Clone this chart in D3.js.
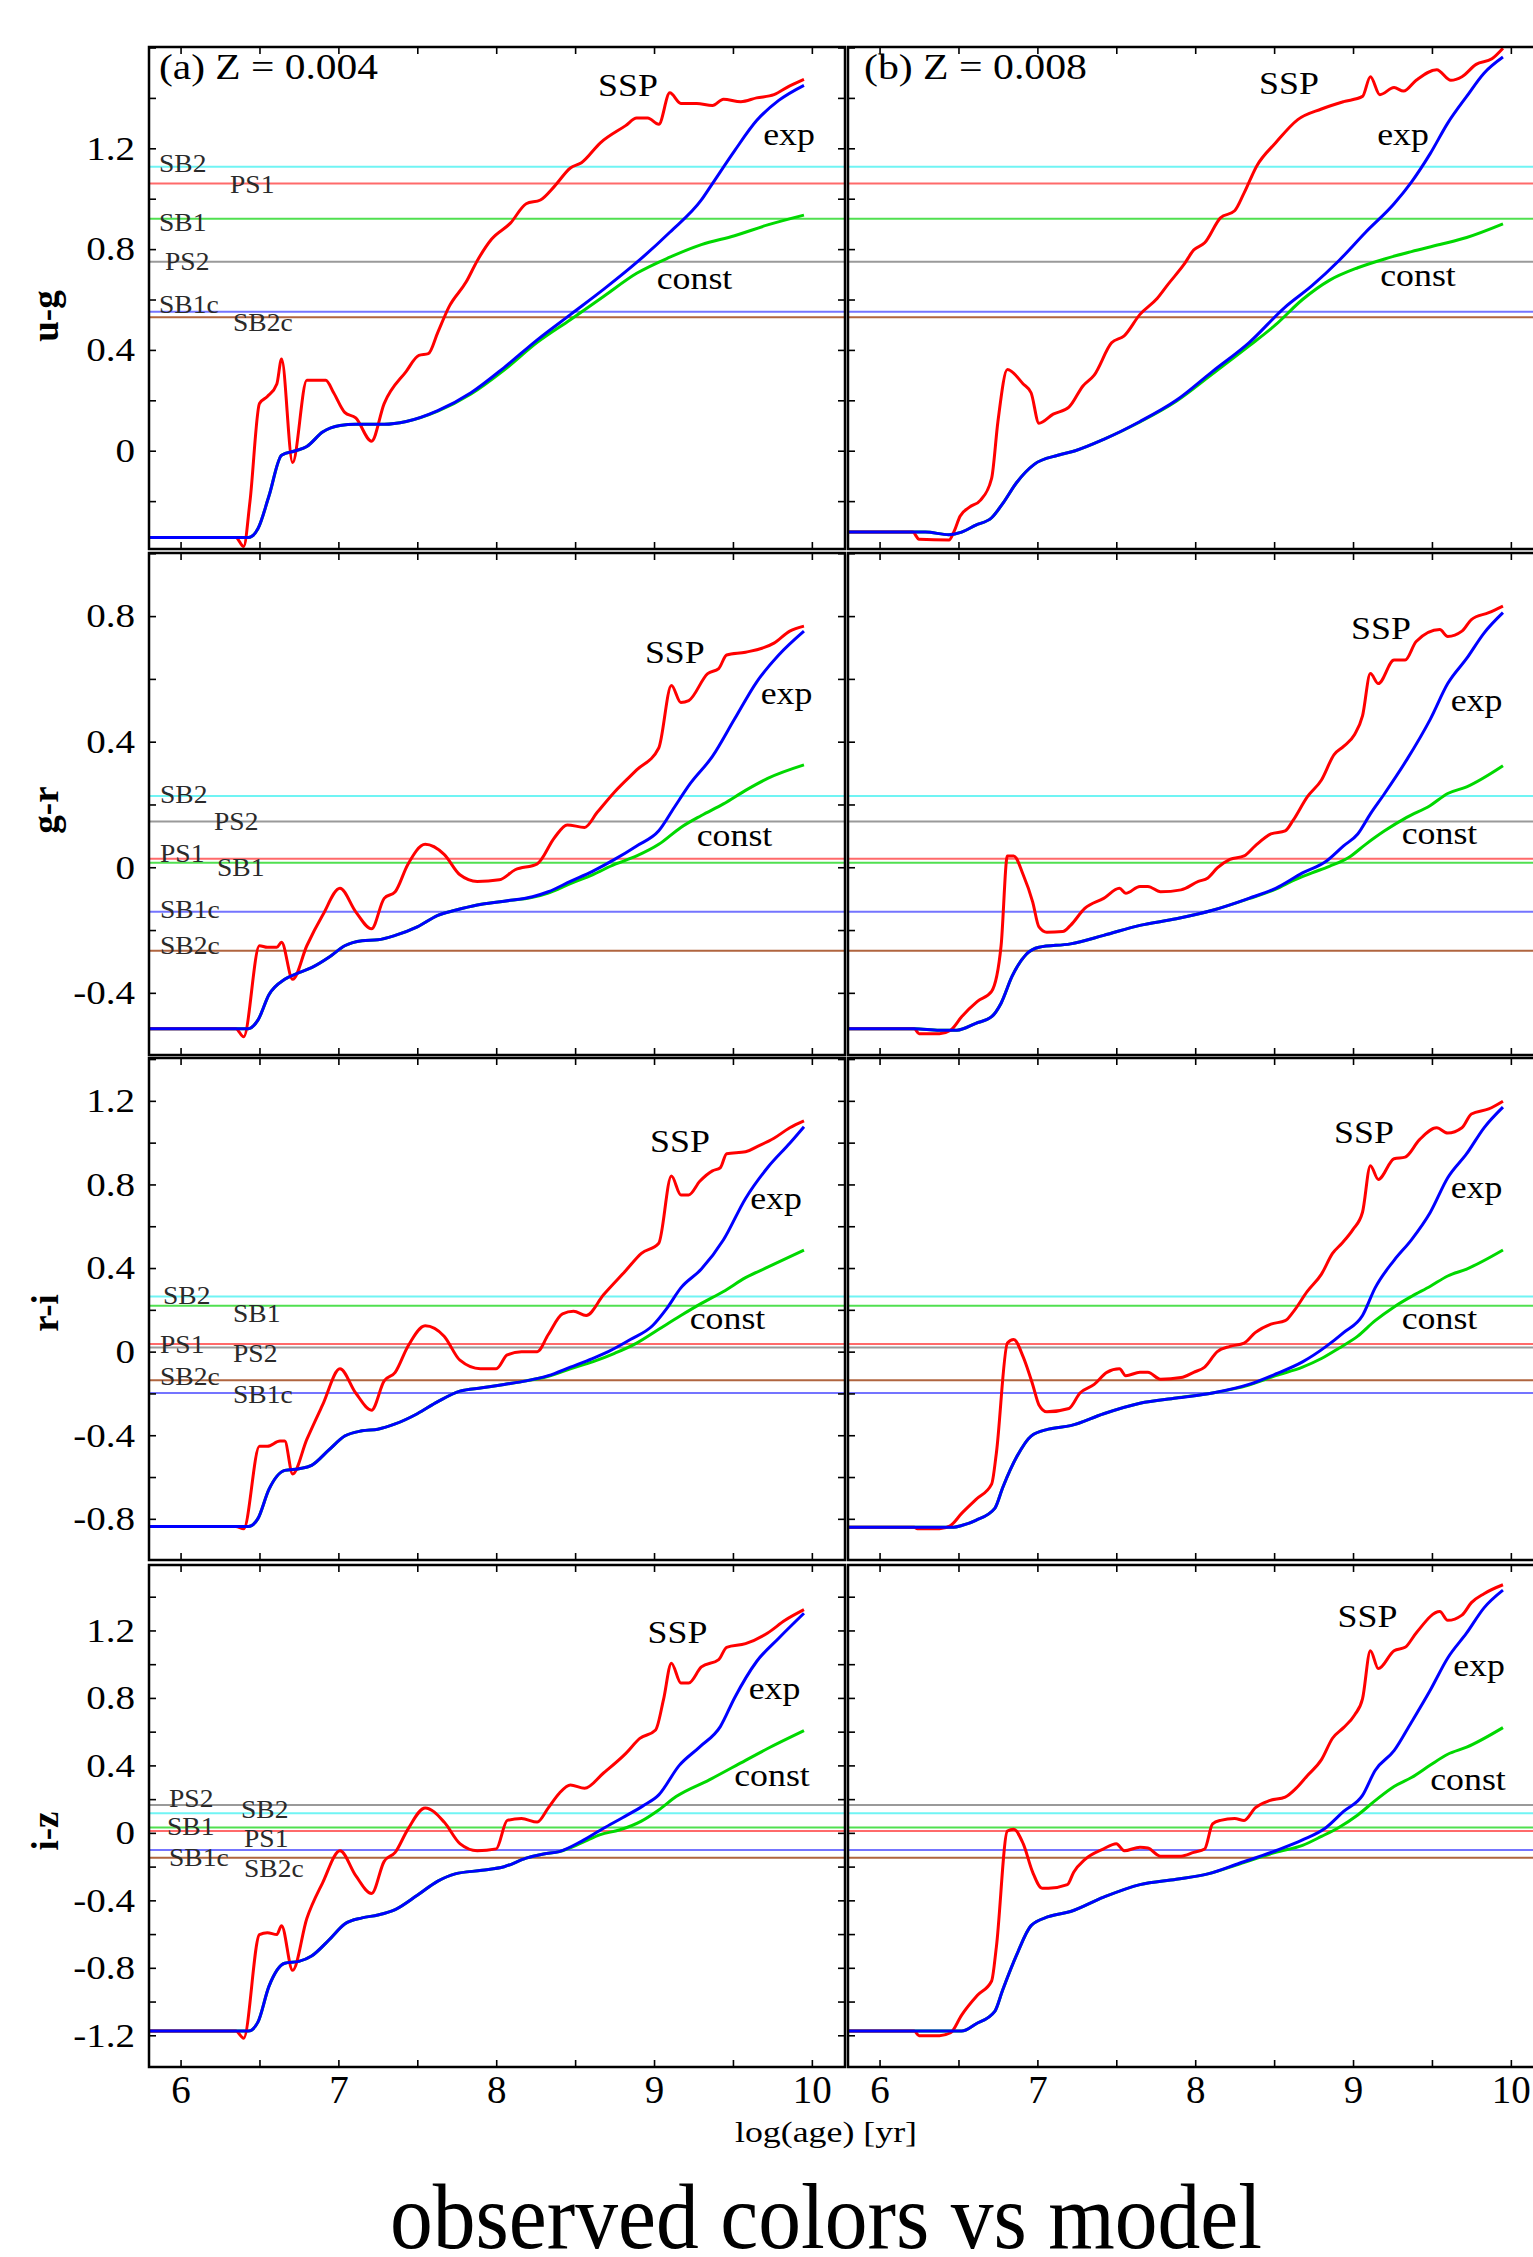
<!DOCTYPE html>
<html lang="en">
<head>
<meta charset="UTF-8">
<title>observed colors vs model</title>
<script src="https://d3js.org/d3.v7.min.js"></script>
<style>
  body { margin: 0; background: #fff; }
  svg { display: block; font-family: "Liberation Serif", "Times New Roman", serif; }
  svg text { font-family: "Liberation Serif", "Times New Roman", serif; }
</style>
</head>
<body>
<svg id="chart" width="1533" height="2257"></svg>
<script>
// each series: [log(age), colour] pairs
// u-g, Z = 0.004
const ugSsp004 = [[5.8,-0.344],[6.35,-0.344],[6.40,-0.38],[6.44,-0.2],[6.50,0.187],[6.55,0.215],[6.61,0.265],[6.64,0.364],[6.71,-0.047],[6.80,0.28],[6.92,0.28],[6.97,0.23],[7.04,0.152],[7.11,0.13],[7.21,0.038],[7.29,0.187],[7.43,0.315],[7.51,0.378],[7.57,0.385],[7.63,0.47],[7.70,0.57],[7.81,0.67],[7.88,0.754],[7.97,0.839],[8.09,0.903],[8.19,0.98],[8.28,0.995],[8.37,1.05],[8.47,1.122],[8.54,1.143],[8.66,1.222],[8.82,1.29],[8.89,1.32],[8.96,1.32],[9.03,1.295],[9.10,1.42],[9.17,1.378],[9.27,1.378],[9.37,1.37],[9.44,1.395],[9.55,1.385],[9.65,1.40],[9.76,1.413],[9.86,1.448],[9.95,1.474]];
const ugExp004 = [[5.8,-0.344],[6.43,-0.344],[6.49,-0.31],[6.56,-0.18],[6.64,-0.018],[6.73,0],[6.80,0.017],[6.90,0.074],[7.01,0.10],[7.11,0.105],[7.29,0.105],[7.43,0.116],[7.63,0.159],[7.84,0.23],[8.05,0.33],[8.26,0.44],[8.47,0.54],[8.68,0.64],[8.89,0.747],[9.10,0.867],[9.30,0.995],[9.37,1.06],[9.51,1.19],[9.65,1.31],[9.79,1.39],[9.95,1.45]];
const ugConst004 = [[5.8,-0.344],[6.43,-0.344],[6.49,-0.31],[6.56,-0.18],[6.64,-0.018],[6.73,0],[6.80,0.017],[6.90,0.074],[7.01,0.10],[7.11,0.105],[7.29,0.105],[7.43,0.116],[7.63,0.157],[7.84,0.225],[8.05,0.32],[8.26,0.43],[8.47,0.52],[8.68,0.612],[8.89,0.704],[9.10,0.768],[9.30,0.818],[9.51,0.853],[9.72,0.896],[9.95,0.935]];
// u-g, Z = 0.008
const ugSsp008 = [[5.8,-0.323],[6.21,-0.323],[6.25,-0.351],[6.44,-0.354],[6.47,-0.323],[6.51,-0.26],[6.57,-0.224],[6.64,-0.196],[6.71,-0.11],[6.75,0.116],[6.81,0.322],[6.91,0.265],[6.96,0.23],[7.01,0.109],[7.10,0.145],[7.20,0.173],[7.29,0.258],[7.36,0.30],[7.47,0.428],[7.55,0.456],[7.65,0.541],[7.76,0.605],[7.83,0.662],[7.93,0.74],[7.99,0.796],[8.06,0.825],[8.16,0.924],[8.25,0.952],[8.31,1.023],[8.39,1.13],[8.51,1.222],[8.65,1.314],[8.80,1.356],[8.94,1.385],[9.06,1.406],[9.11,1.484],[9.17,1.413],[9.26,1.441],[9.32,1.427],[9.40,1.47],[9.53,1.512],[9.62,1.47],[9.69,1.484],[9.78,1.533],[9.88,1.555],[9.95,1.597]];
const ugExp008 = [[5.8,-0.323],[6.29,-0.323],[6.44,-0.333],[6.52,-0.323],[6.61,-0.295],[6.71,-0.266],[6.78,-0.21],[6.87,-0.125],[6.98,-0.054],[7.13,-0.018],[7.24,0],[7.42,0.045],[7.65,0.116],[7.88,0.20],[8.11,0.315],[8.34,0.428],[8.57,0.57],[8.74,0.655],[8.91,0.754],[9.08,0.867],[9.26,0.98],[9.37,1.066],[9.49,1.18],[9.60,1.30],[9.72,1.406],[9.83,1.498],[9.95,1.562]];
const ugConst008 = [[5.8,-0.323],[6.29,-0.323],[6.44,-0.333],[6.52,-0.323],[6.61,-0.295],[6.71,-0.266],[6.78,-0.21],[6.87,-0.125],[6.98,-0.054],[7.13,-0.018],[7.24,0],[7.42,0.045],[7.65,0.114],[7.88,0.196],[8.11,0.305],[8.34,0.415],[8.51,0.50],[8.68,0.60],[8.85,0.676],[9.03,0.726],[9.20,0.761],[9.37,0.79],[9.55,0.818],[9.72,0.846],[9.95,0.90]];

// g-r
const grSsp004 = [[5.8,-0.514],[6.35,-0.514],[6.40,-0.54],[6.50,-0.25],[6.55,-0.255],[6.61,-0.255],[6.64,-0.239],[6.71,-0.357],[6.80,-0.25],[6.90,-0.153],[7.01,-0.067],[7.11,-0.142],[7.21,-0.196],[7.29,-0.099],[7.36,-0.078],[7.44,0.009],[7.55,0.073],[7.67,0.041],[7.77,-0.024],[7.88,-0.045],[8.02,-0.04],[8.12,-0.008],[8.26,0.011],[8.37,0.095],[8.45,0.135],[8.56,0.127],[8.64,0.175],[8.75,0.24],[8.89,0.31],[9.03,0.38],[9.11,0.579],[9.17,0.525],[9.22,0.531],[9.34,0.617],[9.41,0.633],[9.46,0.676],[9.58,0.685],[9.76,0.714],[9.86,0.752],[9.95,0.768]];
const grExp004 = [[5.8,-0.514],[6.43,-0.514],[6.49,-0.487],[6.56,-0.406],[6.66,-0.357],[6.75,-0.336],[6.83,-0.32],[6.94,-0.287],[7.04,-0.25],[7.15,-0.234],[7.25,-0.231],[7.36,-0.217],[7.50,-0.19],[7.63,-0.153],[7.74,-0.137],[7.88,-0.12],[8.05,-0.108],[8.23,-0.094],[8.33,-0.078],[8.47,-0.045],[8.61,-0.013],[8.75,0.025],[8.89,0.068],[9.03,0.116],[9.13,0.192],[9.23,0.267],[9.37,0.353],[9.51,0.472],[9.65,0.59],[9.79,0.676],[9.95,0.752]];
const grConst004 = [[5.8,-0.514],[6.43,-0.514],[6.49,-0.487],[6.56,-0.406],[6.66,-0.357],[6.75,-0.336],[6.83,-0.32],[6.94,-0.287],[7.04,-0.25],[7.15,-0.234],[7.25,-0.231],[7.36,-0.217],[7.50,-0.19],[7.63,-0.153],[7.74,-0.137],[7.88,-0.12],[8.05,-0.108],[8.23,-0.096],[8.33,-0.082],[8.47,-0.052],[8.61,-0.024],[8.75,0.009],[8.89,0.036],[9.03,0.073],[9.17,0.127],[9.30,0.165],[9.44,0.202],[9.58,0.245],[9.72,0.283],[9.95,0.326]];
const grSsp008 = [[5.8,-0.514],[6.22,-0.514],[6.25,-0.53],[6.38,-0.53],[6.45,-0.519],[6.52,-0.476],[6.62,-0.427],[6.71,-0.395],[6.77,-0.25],[6.81,0.036],[6.85,0.036],[6.91,-0.024],[6.97,-0.11],[7.01,-0.19],[7.06,-0.207],[7.16,-0.205],[7.21,-0.185],[7.30,-0.131],[7.42,-0.099],[7.52,-0.067],[7.56,-0.083],[7.65,-0.061],[7.70,-0.061],[7.78,-0.078],[7.91,-0.072],[8.02,-0.045],[8.08,-0.034],[8.14,-0.002],[8.22,0.025],[8.31,0.036],[8.38,0.068],[8.48,0.106],[8.57,0.116],[8.62,0.149],[8.71,0.224],[8.80,0.278],[8.88,0.359],[8.94,0.385],[9.01,0.423],[9.06,0.482],[9.11,0.617],[9.16,0.585],[9.26,0.66],[9.33,0.66],[9.40,0.719],[9.55,0.757],[9.60,0.735],[9.69,0.752],[9.75,0.789],[9.86,0.811],[9.95,0.832]];
const grExp008 = [[5.8,-0.514],[6.22,-0.514],[6.38,-0.519],[6.49,-0.519],[6.61,-0.497],[6.71,-0.476],[6.77,-0.433],[6.84,-0.347],[6.93,-0.277],[7.01,-0.255],[7.21,-0.244],[7.42,-0.217],[7.65,-0.185],[7.88,-0.164],[8.11,-0.137],[8.34,-0.099],[8.51,-0.067],[8.68,-0.018],[8.83,0.019],[8.94,0.068],[9.03,0.106],[9.11,0.17],[9.20,0.235],[9.34,0.342],[9.49,0.472],[9.60,0.585],[9.72,0.665],[9.83,0.746],[9.95,0.811]];
const grConst008 = [[5.8,-0.514],[6.22,-0.514],[6.38,-0.519],[6.49,-0.519],[6.61,-0.497],[6.71,-0.476],[6.77,-0.433],[6.84,-0.347],[6.93,-0.277],[7.01,-0.255],[7.21,-0.244],[7.42,-0.217],[7.65,-0.185],[7.88,-0.164],[8.11,-0.137],[8.34,-0.1],[8.51,-0.07],[8.63,-0.04],[8.74,-0.018],[8.85,0.003],[8.97,0.03],[9.08,0.073],[9.20,0.116],[9.34,0.159],[9.49,0.197],[9.60,0.235],[9.72,0.256],[9.95,0.323]];

// r-i
const riSsp004 = [[5.8,-0.837],[6.35,-0.837],[6.40,-0.848],[6.50,-0.453],[6.55,-0.453],[6.63,-0.428],[6.66,-0.428],[6.71,-0.585],[6.80,-0.42],[6.90,-0.255],[7.01,-0.082],[7.11,-0.198],[7.21,-0.28],[7.29,-0.14],[7.36,-0.099],[7.44,0.025],[7.55,0.124],[7.67,0.074],[7.77,-0.041],[7.90,-0.082],[8.00,-0.082],[8.07,-0.016],[8.16,0],[8.26,0],[8.33,0.082],[8.42,0.181],[8.49,0.193],[8.57,0.173],[8.68,0.272],[8.82,0.387],[8.92,0.47],[9.03,0.519],[9.11,0.84],[9.17,0.75],[9.22,0.75],[9.29,0.815],[9.37,0.865],[9.42,0.88],[9.46,0.947],[9.58,0.956],[9.65,0.98],[9.76,1.021],[9.86,1.071],[9.95,1.104]];
const riExp004 = [[5.8,-0.837],[6.43,-0.837],[6.49,-0.799],[6.56,-0.659],[6.66,-0.568],[6.75,-0.56],[6.83,-0.544],[6.94,-0.47],[7.04,-0.404],[7.15,-0.379],[7.25,-0.371],[7.36,-0.346],[7.50,-0.297],[7.63,-0.239],[7.77,-0.189],[7.91,-0.173],[8.05,-0.157],[8.19,-0.14],[8.33,-0.115],[8.47,-0.074],[8.61,-0.033],[8.71,0],[8.85,0.058],[8.99,0.124],[9.08,0.206],[9.17,0.305],[9.30,0.395],[9.44,0.535],[9.58,0.733],[9.72,0.881],[9.86,0.997],[9.95,1.076]];
const riConst004 = [[5.8,-0.837],[6.43,-0.837],[6.49,-0.799],[6.56,-0.659],[6.66,-0.568],[6.75,-0.56],[6.83,-0.544],[6.94,-0.47],[7.04,-0.404],[7.15,-0.379],[7.25,-0.371],[7.36,-0.346],[7.50,-0.297],[7.63,-0.239],[7.77,-0.189],[7.91,-0.173],[8.05,-0.157],[8.19,-0.14],[8.33,-0.118],[8.47,-0.082],[8.61,-0.049],[8.75,-0.008],[8.89,0.041],[9.03,0.107],[9.17,0.173],[9.30,0.231],[9.44,0.288],[9.58,0.354],[9.72,0.404],[9.95,0.486]];
const riSsp008 = [[5.8,-0.84],[6.22,-0.84],[6.24,-0.848],[6.38,-0.848],[6.45,-0.832],[6.52,-0.774],[6.61,-0.708],[6.71,-0.634],[6.74,-0.486],[6.81,0.041],[6.85,0.058],[6.91,-0.025],[6.97,-0.157],[7.01,-0.255],[7.06,-0.288],[7.20,-0.272],[7.27,-0.198],[7.36,-0.157],[7.44,-0.099],[7.52,-0.082],[7.56,-0.115],[7.65,-0.099],[7.70,-0.099],[7.78,-0.132],[7.91,-0.124],[7.99,-0.099],[8.06,-0.074],[8.14,0],[8.22,0.025],[8.31,0.041],[8.38,0.091],[8.48,0.132],[8.57,0.148],[8.62,0.189],[8.71,0.288],[8.80,0.371],[8.87,0.47],[8.93,0.519],[9.00,0.585],[9.06,0.667],[9.11,0.89],[9.16,0.824],[9.26,0.923],[9.33,0.931],[9.42,1.013],[9.53,1.071],[9.60,1.046],[9.69,1.071],[9.75,1.137],[9.86,1.161],[9.95,1.198]];
const riExp008 = [[5.8,-0.84],[6.47,-0.84],[6.52,-0.832],[6.61,-0.807],[6.73,-0.75],[6.78,-0.651],[6.87,-0.502],[6.96,-0.404],[7.07,-0.371],[7.21,-0.354],[7.42,-0.297],[7.65,-0.247],[7.88,-0.222],[8.11,-0.198],[8.34,-0.157],[8.51,-0.107],[8.68,-0.049],[8.83,0.025],[8.94,0.091],[9.06,0.173],[9.14,0.305],[9.26,0.437],[9.37,0.535],[9.49,0.667],[9.60,0.832],[9.72,0.947],[9.83,1.071],[9.95,1.17]];
const riConst008 = [[5.8,-0.84],[6.47,-0.84],[6.52,-0.832],[6.61,-0.807],[6.73,-0.75],[6.78,-0.651],[6.87,-0.502],[6.96,-0.404],[7.07,-0.371],[7.21,-0.354],[7.42,-0.297],[7.65,-0.247],[7.88,-0.222],[8.11,-0.198],[8.34,-0.16],[8.51,-0.115],[8.68,-0.074],[8.80,-0.033],[8.91,0.016],[9.03,0.074],[9.14,0.148],[9.26,0.214],[9.37,0.264],[9.49,0.313],[9.60,0.362],[9.72,0.395],[9.95,0.486]];

// i-z
const izSsp004 = [[5.8,-1.175],[6.35,-1.175],[6.40,-1.217],[6.50,-0.603],[6.55,-0.592],[6.61,-0.603],[6.64,-0.55],[6.71,-0.815],[6.80,-0.508],[6.90,-0.296],[7.01,-0.106],[7.11,-0.254],[7.21,-0.36],[7.29,-0.169],[7.36,-0.116],[7.44,0.021],[7.55,0.148],[7.67,0.064],[7.77,-0.064],[7.88,-0.106],[8.00,-0.095],[8.07,0.074],[8.16,0.085],[8.26,0.064],[8.33,0.148],[8.40,0.235],[8.47,0.284],[8.56,0.264],[8.68,0.355],[8.82,0.47],[8.91,0.56],[9.01,0.61],[9.06,0.79],[9.11,1.006],[9.17,0.889],[9.22,0.889],[9.30,0.984],[9.41,1.027],[9.46,1.10],[9.58,1.122],[9.72,1.185],[9.83,1.26],[9.95,1.323]];
const izExp004 = [[5.8,-1.175],[6.43,-1.175],[6.49,-1.122],[6.56,-0.91],[6.66,-0.773],[6.75,-0.762],[6.83,-0.73],[6.94,-0.635],[7.04,-0.54],[7.15,-0.504],[7.25,-0.487],[7.36,-0.455],[7.50,-0.37],[7.63,-0.286],[7.74,-0.243],[7.91,-0.222],[8.05,-0.201],[8.19,-0.15],[8.30,-0.125],[8.40,-0.111],[8.54,-0.05],[8.68,0.027],[8.80,0.09],[8.93,0.16],[9.03,0.225],[9.16,0.40],[9.29,0.51],[9.42,0.63],[9.51,0.80],[9.65,1.016],[9.79,1.154],[9.95,1.302]];
const izConst004 = [[5.8,-1.175],[6.43,-1.175],[6.49,-1.122],[6.56,-0.91],[6.66,-0.773],[6.75,-0.762],[6.83,-0.73],[6.94,-0.635],[7.04,-0.54],[7.15,-0.504],[7.25,-0.487],[7.36,-0.455],[7.50,-0.37],[7.63,-0.286],[7.74,-0.243],[7.91,-0.222],[8.05,-0.201],[8.19,-0.15],[8.30,-0.125],[8.40,-0.111],[8.54,-0.06],[8.66,-0.01],[8.78,0.017],[8.92,0.07],[9.03,0.136],[9.14,0.215],[9.35,0.314],[9.58,0.43],[9.72,0.50],[9.95,0.606]];
const izSsp008 = [[5.8,-1.175],[6.22,-1.175],[6.25,-1.202],[6.38,-1.202],[6.45,-1.185],[6.52,-1.08],[6.62,-0.963],[6.71,-0.878],[6.74,-0.677],[6.81,0.011],[6.85,0.021],[6.91,-0.064],[6.97,-0.233],[7.03,-0.328],[7.07,-0.328],[7.19,-0.307],[7.23,-0.233],[7.30,-0.159],[7.42,-0.095],[7.50,-0.064],[7.55,-0.106],[7.65,-0.085],[7.70,-0.09],[7.78,-0.138],[7.91,-0.138],[7.99,-0.116],[8.06,-0.095],[8.11,0.053],[8.16,0.074],[8.25,0.085],[8.31,0.074],[8.38,0.148],[8.47,0.191],[8.57,0.212],[8.64,0.265],[8.71,0.339],[8.80,0.434],[8.87,0.561],[8.94,0.624],[9.01,0.699],[9.06,0.794],[9.11,1.08],[9.16,0.974],[9.26,1.08],[9.33,1.10],[9.40,1.185],[9.55,1.312],[9.60,1.26],[9.69,1.291],[9.75,1.365],[9.83,1.418],[9.95,1.471]];
const izExp008 = [[5.8,-1.175],[6.52,-1.175],[6.61,-1.133],[6.73,-1.058],[6.78,-0.931],[6.87,-0.72],[6.96,-0.55],[7.07,-0.497],[7.21,-0.466],[7.42,-0.381],[7.65,-0.307],[7.88,-0.275],[8.08,-0.243],[8.28,-0.18],[8.51,-0.106],[8.68,-0.042],[8.83,0.032],[8.94,0.127],[9.06,0.222],[9.14,0.37],[9.26,0.487],[9.37,0.656],[9.49,0.847],[9.60,1.037],[9.72,1.185],[9.83,1.334],[9.95,1.439]];
const izConst008 = [[5.8,-1.175],[6.52,-1.175],[6.61,-1.133],[6.73,-1.058],[6.78,-0.931],[6.87,-0.72],[6.96,-0.55],[7.07,-0.497],[7.21,-0.466],[7.42,-0.381],[7.65,-0.307],[7.88,-0.275],[8.08,-0.243],[8.28,-0.185],[8.51,-0.115],[8.68,-0.074],[8.80,-0.021],[8.91,0.032],[9.03,0.106],[9.14,0.191],[9.26,0.275],[9.37,0.328],[9.49,0.402],[9.60,0.466],[9.72,0.508],[9.95,0.624]];

// observed colours of the star-forming regions (horizontal lines)
const refNames = ["SB2", "PS1", "SB1", "PS2", "SB1c", "SB2c"];
const ugRefs = [1.127, 1.06, 0.92, 0.75, 0.551, 0.53];
const grRefs = [0.227, 0.027, 0.014, 0.146, -0.142, -0.266];
const riRefs = [0.264, 0.036, 0.219, 0.02, -0.198, -0.137];
const izRefs = [0.117, 0.011, 0.032, 0.165, -0.101, -0.148];

const curveNames = ["SSP", "exp", "const"];
const panelTitles = ["(a) Z = 0.004", "(b) Z = 0.008"];
const xTickLabels = [6, 7, 8, 9, 10];

// styling / layout
const FONT = "Liberation Serif, Times New Roman, serif";
const refColors = ["#70f4f4", "#ff6a6a", "#50e050", "#9a9a9a", "#7474ff", "#b0653f"];
const curveColors = ["#ff0000", "#0000ff", "#00d800"];
const panelW = 696, panelH = 502;
const panelLefts = [149, 848];
const xDomain = [5.8, 10.21];

const rows = [
  { name: "u-g", top: 47, domain: [-0.390, 1.602], labels: [0, 0.4, 0.8, 1.2], refs: ugRefs,
    series: [[ugSsp004, ugExp004, ugConst004], [ugSsp008, ugExp008, ugConst008]],
    refLabelPos: [[10,5],[81,9],[10,12],[16,8],[10,1],[84,14]],
    curveLabelPos: [[[479,49],[640,97.6],[545.5,241.6]], [[441,46.6],[555,97.6],[570,238.7]]],
    nameY: 269 },
  { name: "g-r", top: 553, domain: [-0.598, 1.001], labels: [-0.4, 0, 0.4, 0.8], refs: grRefs,
    series: [[grSsp004, grExp004, grConst004], [grSsp008, grExp008, grConst008]],
    refLabelPos: [[11,7],[11,3],[68,13],[65,9],[11,6],[11,3]],
    curveLabelPos: [[[525.8,110.4],[637.5,151],[585.5,293]], [[533,85.7],[628.5,157.7],[591.5,291]]],
    nameY: 257 },
  { name: "r-i", top: 1058, domain: [-0.997, 1.405], labels: [-0.8, -0.4, 0, 0.4, 0.8, 1.2], refs: riRefs,
    series: [[riSsp004, riExp004, riConst004], [riSsp008, riExp008, riConst008]],
    refLabelPos: [[14,8],[11,9],[84,16],[84,14.5],[84,10],[11,5]],
    curveLabelPos: [[[531,94],[627,150.7],[578.5,270.6]], [[516,85.3],[628.5,140.4],[591.5,270.6]]],
    nameY: 255 },
  { name: "i-z", top: 1565, domain: [-1.388, 1.588], labels: [-1.2, -0.8, -0.4, 0, 0.4, 0.8, 1.2], refs: izRefs,
    series: [[izSsp004, izExp004, izConst004], [izSsp008, izExp008, izConst008]],
    refLabelPos: [[92,5],[95,16],[18,8],[20,2],[20,16],[95,19]],
    curveLabelPos: [[[528.5,77.9],[625.5,134],[623,220.7]], [[519.5,61.8],[631,110.7],[620,225]]],
    nameY: 266 }
];

const fmt = v => String(Math.round(v * 10) / 10);
const svg = d3.select("#chart");

rows.forEach((row, ri) => {
  const y = d3.scaleLinear().domain(row.domain).range([row.top + panelH, row.top]);
  const minor = d3.range(Math.ceil(row.domain[0] / 0.2 - 1e-6), Math.floor(row.domain[1] / 0.2 + 1e-6) + 1)
    .map(i => +(i * 0.2).toFixed(1));

  panelLefts.forEach((left, pi) => {
    const x = d3.scaleLinear().domain(xDomain).range([left, left + panelW]);
    const g = svg.append("g");

    // horizontal reference lines
    row.refs.forEach((v, k) => {
      g.append("line")
        .attr("x1", left).attr("x2", left + panelW)
        .attr("y1", y(v)).attr("y2", y(v))
        .attr("stroke", refColors[k]).attr("stroke-width", 2);
    });

    if (pi === 0) {
      row.refs.forEach((v, k) => {
        const [dx, dy] = row.refLabelPos[k];
        g.append("text")
          .attr("transform", `translate(${left + dx},${y(v) + dy}) scale(1.06,1)`)
          .attr("font-family", FONT)
          .attr("font-size", 26).attr("fill", "#2a2a2a")
          .text(refNames[k]);
      });
    }

    // model curves: const, SSP, exp (blue on top)
    const line = d3.line().x(d => x(d[0])).y(d => y(d[1])).curve(d3.curveMonotoneX);
    [2, 0, 1].forEach(k => {
      g.append("path")
        .datum(row.series[pi][k])
        .attr("d", line)
        .attr("fill", "none")
        .attr("stroke", curveColors[k])
        .attr("stroke-width", 3)
        .attr("stroke-linejoin", "round");
    });

    row.curveLabelPos[pi].forEach((p, k) => {
      g.append("text")
        .attr("transform", `translate(${left + p[0]},${row.top + p[1]}) scale(1.12,1)`)
        .attr("text-anchor", "middle")
        .attr("font-family", FONT)
        .attr("font-size", 32)
        .text(curveNames[k]);
    });

    // frame
    g.append("rect")
      .attr("x", left).attr("y", row.top)
      .attr("width", panelW).attr("height", panelH)
      .attr("fill", "none").attr("stroke", "#000").attr("stroke-width", 2.5);

    // inward ticks on all four sides
    const xt = d3.range(6, 10.01, 0.5);
    const tickAxes = [
      [d3.axisTop(x).tickValues(xt), `translate(0,${row.top})`],
      [d3.axisBottom(x).tickValues(xt), `translate(0,${row.top + panelH})`],
      [d3.axisLeft(y).tickValues(minor), `translate(${left},0)`],
      [d3.axisRight(y).tickValues(minor), `translate(${left + panelW},0)`]
    ];
    tickAxes.forEach(([ax, tr]) => {
      const ga = g.append("g").attr("transform", tr)
        .call(ax.tickSize(-7).tickFormat(""));
      ga.select(".domain").remove();
      ga.selectAll("line").attr("stroke", "#000").attr("stroke-width", 1.6);
    });

    // y tick labels on the left panels
    if (pi === 0) {
      const gl = g.append("g").attr("transform", `translate(${left},0)`)
        .call(d3.axisLeft(y).tickValues(row.labels).tickSize(0).tickFormat(fmt));
      gl.attr("font-family", FONT).attr("font-size", 34);
      gl.select(".domain").remove();
      gl.selectAll("text")
        .attr("fill", "#000")
        .attr("x", -14 / 1.15)
        .attr("transform", "scale(1.15,1)");
    }

    // x tick labels under the bottom row
    if (ri === rows.length - 1) {
      const gx = g.append("g").attr("transform", `translate(0,${row.top + panelH})`)
        .call(d3.axisBottom(x).tickValues(xTickLabels).tickSize(0).tickPadding(8).tickFormat(d => d));
      gx.attr("font-family", FONT).attr("font-size", 39);
      gx.select(".domain").remove();
      gx.selectAll("text").attr("fill", "#000");
    }

    // panel titles on the top row
    if (ri === 0) {
      g.append("text")
        .attr("x", left + (pi === 0 ? 10 : 16))
        .attr("y", row.top + 32)
        .attr("font-family", FONT)
        .attr("font-size", 35)
        .attr("textLength", pi === 0 ? 219 : 223)
        .attr("lengthAdjust", "spacingAndGlyphs")
        .text(panelTitles[pi]);
    }
  });

  // rotated colour name
  svg.append("text")
    .attr("transform", `translate(58,${row.top + row.nameY}) rotate(-90)`)
    .attr("text-anchor", "middle")
    .attr("font-family", FONT)
    .attr("font-size", 37)
    .attr("font-weight", "bold")
    .text(row.name);
});

// x axis title and caption
svg.append("text")
  .attr("x", 826).attr("y", 2142)
  .attr("text-anchor", "middle")
  .attr("font-family", FONT)
  .attr("font-size", 29)
  .attr("textLength", 182).attr("lengthAdjust", "spacingAndGlyphs")
  .text("log(age) [yr]");

svg.append("text")
  .attr("x", 826).attr("y", 2248)
  .attr("text-anchor", "middle")
  .attr("font-family", FONT)
  .attr("font-size", 94)
  .attr("textLength", 872).attr("lengthAdjust", "spacingAndGlyphs")
  .text("observed colors vs model");
</script>
</body>
</html>
